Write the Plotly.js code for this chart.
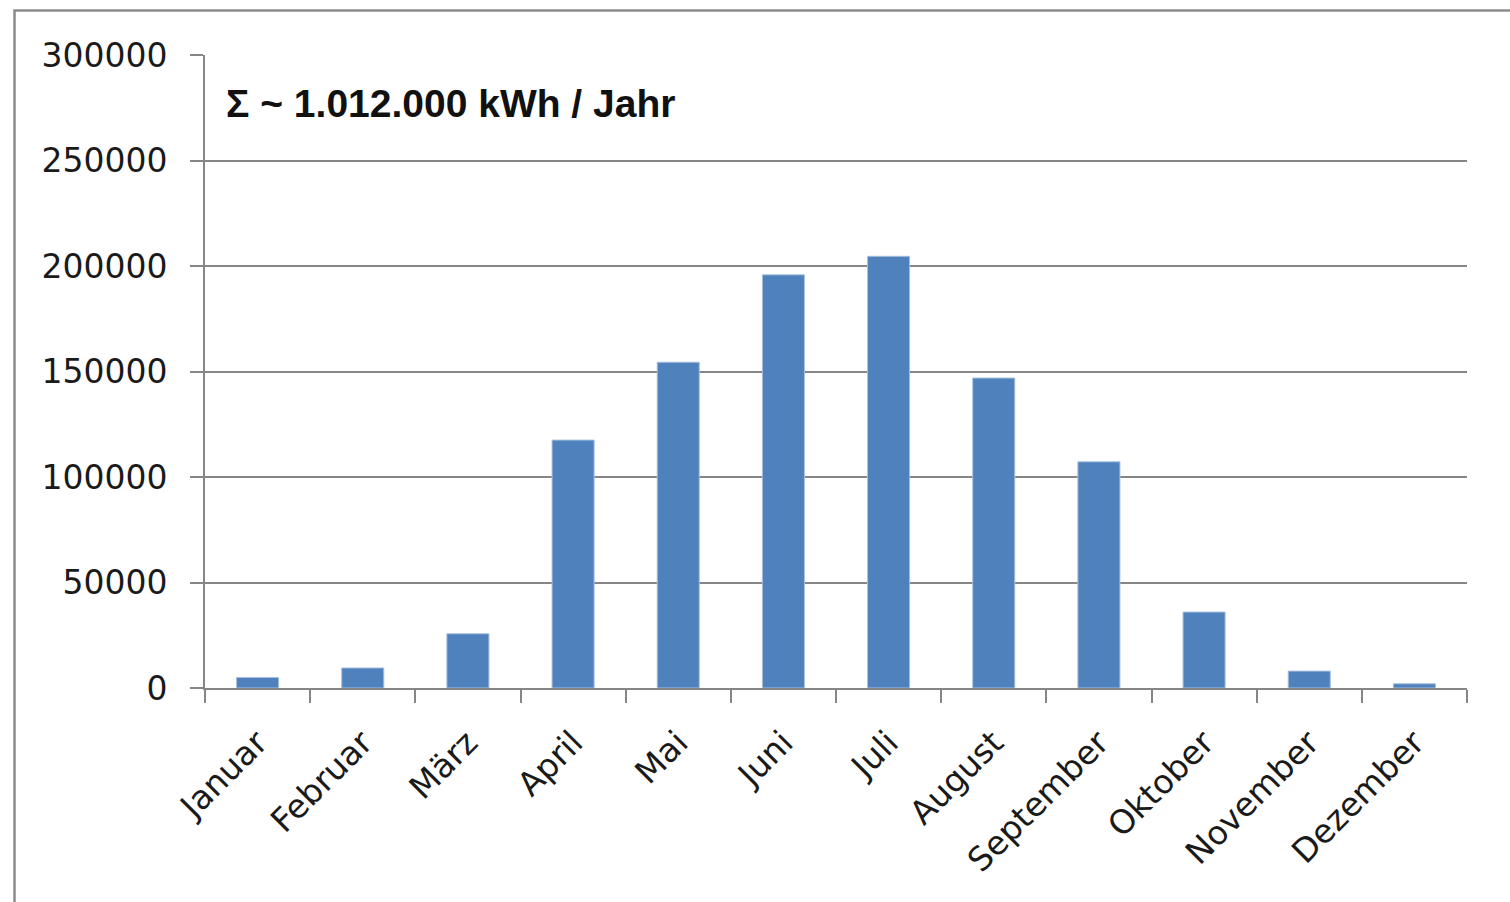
<!DOCTYPE html>
<html>
<head>
<meta charset="utf-8">
<script src="https://cdn.plot.ly/plotly-3.0.1.min.js"></script>
<style>
  html, body { margin: 0; padding: 0; background: #fff; }
  #chart { width: 1510px; height: 902px; }
</style>
</head>
<body>
<div id="chart"></div>
<script>
const months = ["Januar", "Februar", "März", "April", "Mai", "Juni", "Juli", "August", "September", "Oktober", "November", "Dezember"];
const energyKWh = [5000, 9500, 25700, 117500, 154400, 195800, 204600, 146900, 107200, 36000, 8000, 2000];
const yTicks = [0, 50000, 100000, 150000, 200000, 250000, 300000];
const totalLabel = "Σ ~ 1.012.000 kWh / Jahr";

const W = 1510, H = 902;
const margin = { l: 205, r: 43, t: 55, b: 214, pad: 0 };
const plotW = W - margin.l - margin.r;
const plotH = H - margin.t - margin.b;
const px2x = p => (p - margin.l) / plotW;
const px2y = p => (H - margin.b - p) / plotH;

const grey = "#868686";

const trace = {
  type: "bar",
  x: months,
  y: energyKWh,
  marker: { color: "#4F81BD", line: { color: "#A7C0DE", width: 1 } },
  hoverinfo: "x+y"
};

const layout = {
  width: W,
  height: H,
  margin: margin,
  paper_bgcolor: "#ffffff",
  plot_bgcolor: "#ffffff",
  showlegend: false,
  bargap: 0.6,
  font: { family: "DejaVu Sans, Verdana, sans-serif", color: "#1a1a1a" },
  xaxis: {
    type: "category",
    showline: true,
    linecolor: grey,
    linewidth: 2,
    showgrid: false,
    zeroline: false,
    ticks: "outside",
    tickson: "boundaries",
    ticklen: 13,
    tickwidth: 2,
    tickcolor: grey,
    tickangle: -45,
    tickfont: { size: 33, family: "DejaVu Sans, Verdana, sans-serif", color: "#1a1a1a" },
    ticklabelstandoff: 20
  },
  yaxis: {
    range: [0, 300000],
    tickvals: yTicks,
    ticktext: yTicks.map(String),
    showline: true,
    linecolor: grey,
    linewidth: 2,
    showgrid: true,
    gridcolor: grey,
    gridwidth: 2,
    zeroline: false,
    ticks: "outside",
    ticklen: 13,
    tickwidth: 2,
    tickcolor: grey,
    tickfont: { size: 33, family: "DejaVu Sans, Verdana, sans-serif", color: "#1a1a1a" },
    ticklabelstandoff: 16
  },
  annotations: [{
    xref: "paper", yref: "paper",
    x: px2x(224), y: px2y(103),
    xanchor: "left", yanchor: "middle",
    text: "<b>" + totalLabel + "</b>",
    showarrow: false,
    font: { size: 39, family: "Liberation Sans, Arial, sans-serif", color: "#111111" }
  }],
  shapes: [{
    type: "rect",
    xref: "paper", yref: "paper",
    x0: px2x(14.5), x1: px2x(1530),
    y0: px2y(920), y1: px2y(10.5),
    line: { color: "#8c8c8c", width: 2.5 },
    fillcolor: "rgba(0,0,0,0)",
    layer: "below"
  }]
};

Plotly.newPlot("chart", [trace], layout, { displayModeBar: false, staticPlot: true });
</script>
</body>
</html>
